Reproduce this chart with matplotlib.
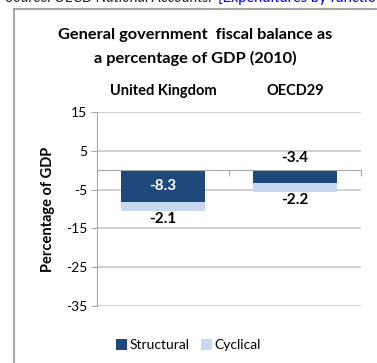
import matplotlib.pyplot as plt
from matplotlib.lines import Line2D

plt.rcParams['font.family'] = ['Lato', 'DejaVu Sans']

countries = ["United Kingdom", "OECD29"]
structural = [-8.3, -3.4]
cyclical = [-2.1, -2.2]
yticks = [15, 5, -5, -15, -25, -35]

dark = "#1F497D"
light = "#C6D9F1"
grey = "#A6A6A6"

fig = plt.figure(figsize=(3.77, 3.63), dpi=100)
ax = fig.add_axes([97 / 377, 1 - 306 / 363, 264 / 377, 194 / 363])

x = list(range(len(countries)))
ax.bar(x, structural, width=0.64, color=dark, label="Structural", zorder=3)
ax.bar(x, cyclical, width=0.64, bottom=structural, color=light, label="Cyclical", zorder=3)

ax.set_xlim(-0.5, 1.5)
ax.set_ylim(-35, 15)
ax.set_yticks(yticks)
ax.set_yticklabels([str(t) for t in yticks], fontsize=10)
ax.yaxis.grid(True, color="#C8C8C8", linewidth=1.2, zorder=0)
ax.tick_params(axis="y", length=4, color=grey, pad=3)

# category axis crosses at zero, labels at the top
ax.spines["bottom"].set_position(("data", 0))
ax.spines["bottom"].set_color(grey)
ax.spines["bottom"].set_zorder(4)
ax.spines["left"].set_color(grey)
ax.spines["top"].set_visible(False)
ax.spines["right"].set_visible(False)
ax.set_xticks([-0.5, 0.5, 1.5])
ax.set_xticklabels([])
ax.tick_params(axis="x", direction="out", length=4, color=grey)
top = ax.secondary_xaxis("top")
top.set_xticks(x)
top.set_xticklabels(countries, fontsize=10.5, fontweight="bold")
top.tick_params(length=0, pad=10)
top.spines["top"].set_visible(False)

ax.set_ylabel("Percentage of GDP", fontsize=10.5, fontweight="bold", labelpad=8)

# value labels
ax.text(x[0], structural[0] / 2, f"{structural[0]:.1f}", color="white",
        fontsize=11, fontweight="bold", ha="center", va="center", zorder=5)
ax.annotate(f"{structural[1]:.1f}", (x[1], 0), xytext=(0, 9), textcoords="offset points",
            fontsize=11, fontweight="bold", ha="center", va="center")
for i in x:
    ax.annotate(f"{cyclical[i]:.1f}", (x[i], structural[i] + cyclical[i]), xytext=(0, -6),
                textcoords="offset points", fontsize=11, fontweight="bold",
                ha="center", va="center")

fig.text(195 / 377, 1 - 47 / 363, "General government  fiscal balance as\na percentage of GDP (2010)",
         fontsize=11.8, fontweight="bold", ha="center", va="center", linespacing=1.75)

ax.legend(loc="center", bbox_to_anchor=(0.5, 1 - 345 / 363), bbox_transform=fig.transFigure,
          ncol=2, frameon=False, fontsize=10, handlelength=0.8, handleheight=0.8,
          handletextpad=0.2, columnspacing=0.8)

# frame of the chart box
fig.add_artist(Line2D([14 / 377, 14 / 377], [0, 1 - 9 / 363], color=grey, linewidth=1.5))
fig.add_artist(Line2D([14 / 377, 1], [1 - 9 / 363, 1 - 9 / 363], color=grey, linewidth=1.5))

# cut-off source line above the box
src = fig.text(6 / 377, 1 + 2 / 363, "Source: OECD National Accounts.", fontsize=10.5,
               style="italic", ha="left", va="center", color="#222222")
fig.canvas.draw()
bb = src.get_window_extent().transformed(fig.transFigure.inverted())
fig.text(bb.x1 + 6 / 377, 1 + 2 / 363, "[Expenditures by function", fontsize=10.5,
         ha="left", va="center", color="#0000EE")

fig.savefig("out.png", dpi=100)
